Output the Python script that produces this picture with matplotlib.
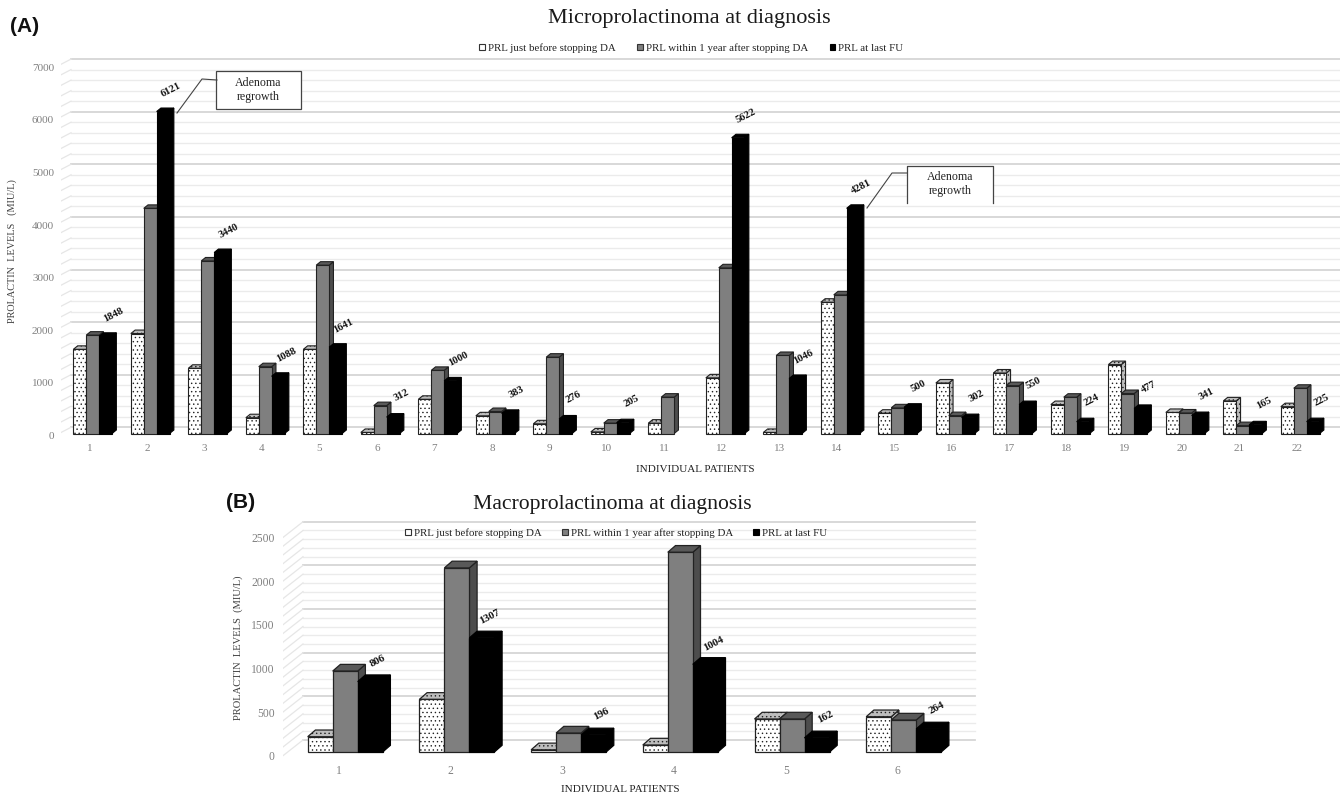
import numpy as np
import matplotlib
matplotlib.use('Agg')
import matplotlib.pyplot as plt
from matplotlib.patches import Patch, Polygon, Rectangle
from matplotlib.transforms import Affine2D, ScaledTranslation

W, H = 1342, 794
plt.rcParams['font.family'] = ['Liberation Serif', 'DejaVu Serif']
plt.rcParams['hatch.linewidth'] = 0.5

series_names = ['PRL just before stopping DA', 'PRL within 1 year after stopping DA', 'PRL at last FU']

# panel A, microprolactinoma
patients_a = list(range(1, 23))
before_a = [1600, 1900, 1240, 300, 1600, 20, 650, 336, 184, 30, 197,
            1058, 20, 2496, 386, 960, 1150, 550, 1310, 400, 620, 510]
within_a = [1870, 4280, 3280, 1270, 3200, 530, 1200, 418, 1451, 197, 691,
            3150, 1483, 2636, 488, 340, 910, 690, 760, 390, 150, 860]
last_a = [1848, 6121, 3440, 1088, 1641, 312, 1000, 383, 276, 205, np.nan,
          5622, 1046, 4281, 500, 302, 550, 224, 477, 341, 165, 225]
ticks_a = [0, 1000, 2000, 3000, 4000, 5000, 6000, 7000]

# panel B, macroprolactinoma
patients_b = list(range(1, 7))
before_b = [175, 603, 25, 80, 378, 404]
within_b = [927, 2109, 217, 2288, 378, 366]
last_b = [806, 1307, 196, 1004, 162, 264]
ticks_b = [0, 500, 1000, 1500, 2000, 2500]

fig = plt.figure(figsize=(W / 100, H / 100), dpi=100, facecolor='white')
px = Affine2D().scale(1, -1).translate(0, H)  # reference pixels, y going down


def make_axes(left, right, top, bottom, x1, xstep, y0, yscale):
    ax = fig.add_axes([left / W, 1 - bottom / H, (right - left) / W, (bottom - top) / H])
    ax.set_xlim(1 + (left - x1) / xstep, 1 + (right - x1) / xstep)
    ax.set_ylim((y0 - bottom) / yscale, (y0 - top) / yscale)
    ax.patch.set_alpha(0)
    for s in ax.spines.values():
        s.set_visible(False)
    ax.tick_params(length=0, colors='#808080')
    return ax


def draw_wall(ax, ticks, minor, xstep, yscale, wall_x, wall_y, tick_drop, x_end):
    top = ticks[-1]
    for v in np.arange(0, top + minor, minor):
        major = v in ticks
        col = '#d6d6d6' if major else '#ebebeb'
        lw = 1.3 if major else 1.0
        xb = ax.get_xlim()[0] + wall_x / xstep
        ax.plot([xb, x_end], [v + wall_y / yscale] * 2, color=col, lw=lw, zorder=1)
        ax.plot([ax.get_xlim()[0], xb], [v - tick_drop / yscale, v + wall_y / yscale],
                color='#e6e6e6', lw=0.9, zorder=1)


def draw_bars(ax, patients, groups, bw, shift, dx, dy, ew, dots):
    styles = [('white', '#bdbdbd', '#bdbdbd', dots, '#222222'),
              ('#7f7f7f', '#595959', '#4d4d4d', None, '#222222'),
              ('black', 'black', 'black', None, 'black')]
    x = np.array(patients, dtype=float)
    for i, vals in enumerate(groups):
        front, topc, sidec, hatch, edge = styles[i]
        xs = x + shift + (i - 1) * bw
        for xi, v in zip(xs, vals):
            if np.isnan(v):
                continue
            z = 3 + i + xi * 0.001
            l, r = xi - bw / 2, xi + bw / 2
            ax.add_patch(Polygon([(r, 0), (r + dx, dy), (r + dx, v + dy), (r, v)], closed=True,
                                 facecolor=sidec, edgecolor=edge, lw=ew, zorder=z, hatch=hatch))
            ax.add_patch(Polygon([(l, v), (l + dx, v + dy), (r + dx, v + dy), (r, v)], closed=True,
                                 facecolor=topc, edgecolor=edge, lw=ew, zorder=z, hatch=hatch))
            ax.bar(xi, v, bw, color=front, edgecolor=edge, lw=ew, zorder=z + 0.0001, hatch=hatch)


def value_labels(ax, patients, vals, bw, shift, dy, size, off):
    for p, v in zip(patients, vals):
        if np.isnan(v):
            continue
        ax.annotate(str(v), (p + shift + bw, v + dy), xytext=off, textcoords='offset pixels',
                    ha='center', va='center', rotation=27, fontsize=size, fontweight='bold',
                    color='#111111', zorder=20)


def legend_at(x, y, gap):
    handles = [Patch(facecolor='white', edgecolor='#333333', lw=0.8),
               Patch(facecolor='#7f7f7f', edgecolor='#333333', lw=0.8),
               Patch(facecolor='black', edgecolor='black', lw=0.8)]
    leg = fig.legend(handles, series_names, loc='center', bbox_to_anchor=(x, y), bbox_transform=px,
                     ncol=3, frameon=False, fontsize=7.8, handlelength=0.55, handleheight=0.6,
                     handletextpad=0.25, columnspacing=gap, borderpad=0, labelcolor='#222222')
    leg.set_zorder(30)


def shift_ylabels(ax, drop):
    off = ScaledTranslation(0, -drop / 100, fig.dpi_scale_trans)
    for lab in ax.get_yticklabels():
        lab.set_transform(lab.get_transform() + off)


# panel A
xs_a, sc_a = 57.5, 0.0526
ax_a = make_axes(61, 1340, 50, 440, 89.5, xs_a, 433.5, sc_a)
draw_wall(ax_a, ticks_a, 200, xs_a, sc_a, 10, 6.2, -1.0, ax_a.get_xlim()[1])
bw_a = 12.9 / xs_a
dx_a, dy_a = 4.3 / xs_a, 3.5 / sc_a
draw_bars(ax_a, patients_a, [before_a, within_a, last_a], bw_a, 3.2 / xs_a, dx_a, dy_a, 0.8, '....')
value_labels(ax_a, patients_a, last_a, bw_a, 3.2 / xs_a, dy_a, 7.6, (8, 18))
ax_a.set_xticks(patients_a)
ax_a.set_yticks(ticks_a)
ax_a.tick_params(axis='x', labelsize=8, pad=3)
ax_a.tick_params(axis='y', labelsize=8, pad=5)
shift_ylabels(ax_a, 2)

# panel B
xs_b, sc_b = 111.7, 0.0873
ax_b = make_axes(283, 980, 515, 758, 339, xs_b, 752, sc_b)
draw_wall(ax_b, ticks_b, 100, xs_b, sc_b, 20, 12, 3.7, 1 + (975 - 339) / xs_b)
bw_b = 25 / xs_b
dx_b, dy_b = 7.7 / xs_b, 6.7 / sc_b
draw_bars(ax_b, patients_b, [before_b, within_b, last_b], bw_b, 6.2 / xs_b, dx_b, dy_b, 0.9, '....')
value_labels(ax_b, patients_b, last_b, bw_b, 6.2 / xs_b, dy_b, 7.8, (8, 14))
ax_b.set_xticks(patients_b)
ax_b.set_yticks(ticks_b)
ax_b.tick_params(axis='x', labelsize=8.4, pad=5)
ax_b.tick_params(axis='y', labelsize=8.4, pad=6)
shift_ylabels(ax_b, 3.7)

# titles, panel letters, axis titles
fig.text(689, 19, 'Microprolactinoma at diagnosis', transform=px, ha='center', va='center',
         fontsize=16, color='#1a1a1a')
fig.text(612, 505, 'Macroprolactinoma at diagnosis', transform=px, ha='center', va='center',
         fontsize=15.6, color='#1a1a1a')
fig.text(10, 27, '(A)', transform=px, ha='left', va='center', fontsize=15, fontweight='bold',
         family=['Liberation Sans'], color='#111111')
fig.text(226, 503, '(B)', transform=px, ha='left', va='center', fontsize=15, fontweight='bold',
         family=['Liberation Sans'], color='#111111')
fig.text(12, 251, 'PROLACTIN  LEVELS   (MIU/L)', transform=px, rotation=90, ha='center', va='center',
         fontsize=7.4, color='#404040')
fig.text(238, 648, 'PROLACTIN  LEVELS  (MIU/L)', transform=px, rotation=90, ha='center', va='center',
         fontsize=7.6, color='#404040')
fig.text(695, 469, 'INDIVIDUAL PATIENTS', transform=px, ha='center', va='center', fontsize=8, color='#222222')
fig.text(620, 789, 'INDIVIDUAL PATIENTS', transform=px, ha='center', va='center', fontsize=8, color='#222222')

legend_at(691, 48, 2.0)
legend_at(616, 533, 1.85)

# callouts on panel A
fig.add_artist(Rectangle((216, 71), 85, 38, transform=px, facecolor='white', edgecolor='#444444', lw=0.9, zorder=25))
fig.text(258.5, 90, 'Adenoma\nregrowth', transform=px, ha='center', va='center', fontsize=8.6,
         color='#222222', zorder=26, linespacing=1.2)
fig.add_artist(plt.Line2D([177, 202, 217], [113, 79, 80], transform=px, color='#444444', lw=0.8, zorder=25))

fig.add_artist(Rectangle((907, 166), 86, 37, transform=px, facecolor='white', edgecolor='none', zorder=25))
fig.add_artist(plt.Line2D([907, 907, 993, 993], [203, 166, 166, 203], transform=px, color='#444444', lw=0.9, zorder=26))
fig.text(950, 184, 'Adenoma\nregrowth', transform=px, ha='center', va='center', fontsize=8.6,
         color='#222222', zorder=26, linespacing=1.2)
fig.add_artist(plt.Line2D([867, 892, 907], [208, 173, 173], transform=px, color='#444444', lw=0.8, zorder=25))

fig.savefig('out.png', dpi=100)
